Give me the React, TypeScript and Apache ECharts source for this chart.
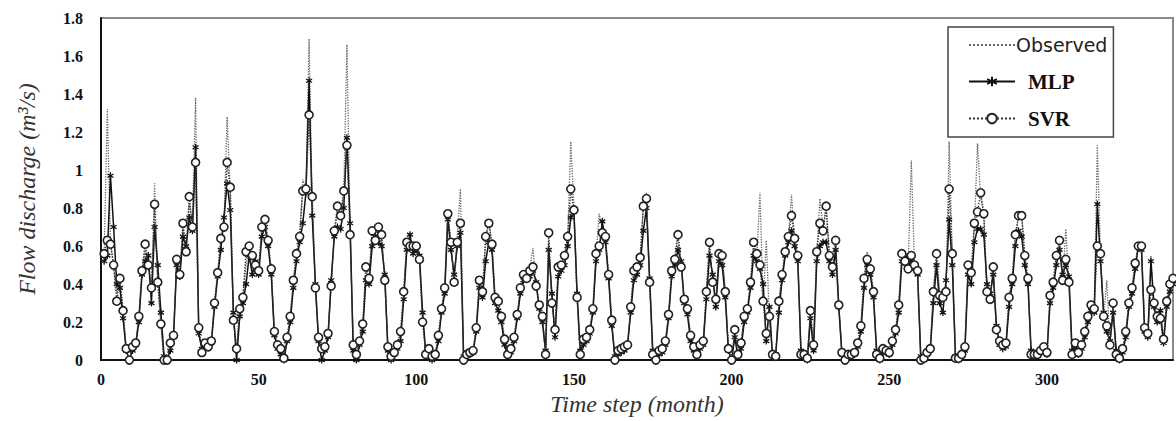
import React, { useEffect, useRef } from "react";
import * as echarts from "echarts";

// Monthly values (month 1 .. 340)
const OBSERVED = [
  0.55,1.32,0.62,0.50,0.35,0.42,0.25,0.05,0.00,0.06,0.08,0.22,
  0.46,0.58,0.50,0.35,0.93,0.40,0.20,0.00,0.00,0.08,0.12,0.52,
  0.44,0.70,0.58,0.82,0.72,1.38,0.15,0.05,0.08,0.08,0.10,0.30,
  0.45,0.62,0.72,1.28,0.88,0.22,0.03,0.26,0.32,0.50,0.58,0.52,
  0.50,0.48,0.68,0.72,0.62,0.47,0.14,0.07,0.05,0.00,0.11,0.22,
  0.40,0.55,0.64,0.95,0.90,1.69,0.80,0.38,0.11,0.05,0.06,0.13,
  0.40,0.66,0.78,0.74,0.88,1.66,0.68,0.07,0.02,0.09,0.18,0.47,
  0.42,0.66,0.70,0.68,0.64,0.43,0.06,0.01,0.04,0.07,0.14,0.35,
  0.63,0.64,0.58,0.60,0.52,0.22,0.03,0.05,0.02,0.03,0.12,0.26,
  0.37,0.78,0.60,0.42,0.66,0.90,0.00,0.03,0.04,0.05,0.16,0.40,
  0.35,0.62,0.74,0.60,0.32,0.30,0.22,0.10,0.03,0.05,0.11,0.23,
  0.37,0.44,0.44,0.48,0.59,0.40,0.28,0.22,0.03,0.62,0.32,0.15,
  0.47,0.50,0.54,0.64,1.15,0.80,0.32,0.03,0.10,0.11,0.15,0.26,
  0.55,0.77,0.70,0.64,0.44,0.20,0.00,0.04,0.05,0.06,0.07,0.27,
  0.46,0.48,0.53,0.80,0.88,0.42,0.03,0.00,0.04,0.05,0.09,0.23,
  0.46,0.52,0.67,0.50,0.31,0.26,0.12,0.06,0.02,0.07,0.09,0.35,
  0.60,0.42,0.31,0.55,0.58,0.35,0.05,0.00,0.15,0.03,0.08,0.22,
  0.26,0.40,0.60,0.55,0.88,0.30,0.63,0.22,0.02,0.02,0.30,0.44,
  0.56,0.64,0.87,0.62,0.54,0.03,0.02,0.00,0.25,0.07,0.56,0.85,
  0.70,0.80,0.54,0.48,0.62,0.28,0.03,0.00,0.02,0.03,0.04,0.08,
  0.17,0.42,0.57,0.47,0.35,0.03,0.00,0.05,0.05,0.04,0.09,0.15,
  0.28,0.55,0.53,0.49,1.05,0.50,0.46,0.00,0.01,0.03,0.05,0.35,
  0.55,0.33,0.32,0.35,1.15,0.55,0.01,0.00,0.02,0.06,0.49,0.45,
  0.70,1.14,0.86,0.76,0.35,0.31,0.48,0.15,0.09,0.07,0.08,0.32,
  0.42,0.65,0.75,0.77,0.54,0.42,0.03,0.02,0.02,0.04,0.06,0.03,
  0.33,0.40,0.54,0.62,0.41,0.69,0.40,0.03,0.08,0.03,0.07,0.14,
  0.22,0.28,0.26,1.13,0.55,0.22,0.42,0.07,0.29,0.02,0.00,0.05,
  0.14,0.29,0.37,0.50,0.59,0.59,0.16,0.13,0.55,0.29,0.22,0.21,
  0.10,0.30,0.39,0.42,
];

const MLP = [
  0.52,0.55,0.97,0.70,0.40,0.38,0.22,0.05,0.00,0.05,0.08,0.20,
  0.45,0.52,0.55,0.30,0.70,0.50,0.25,0.02,0.00,0.05,0.12,0.50,
  0.44,0.65,0.60,0.75,0.68,1.12,0.14,0.06,0.08,0.10,0.09,0.28,
  0.44,0.58,0.75,0.93,0.79,0.25,0.00,0.23,0.30,0.40,0.55,0.45,
  0.52,0.45,0.65,0.70,0.60,0.45,0.13,0.06,0.03,0.00,0.10,0.20,
  0.38,0.52,0.62,0.72,0.88,1.47,0.76,0.40,0.10,0.00,0.05,0.12,
  0.42,0.65,0.70,0.69,0.80,1.17,0.72,0.05,0.00,0.08,0.15,0.42,
  0.40,0.60,0.65,0.62,0.60,0.45,0.05,0.00,0.03,0.06,0.10,0.32,
  0.58,0.66,0.56,0.58,0.55,0.25,0.04,0.03,0.00,0.02,0.10,0.25,
  0.35,0.74,0.58,0.45,0.60,0.67,0.02,0.03,0.03,0.04,0.15,0.38,
  0.33,0.52,0.62,0.58,0.30,0.26,0.20,0.08,0.02,0.04,0.10,0.22,
  0.35,0.42,0.45,0.44,0.47,0.41,0.27,0.20,0.05,0.58,0.35,0.12,
  0.44,0.47,0.50,0.60,0.75,0.78,0.35,0.05,0.08,0.10,0.14,0.25,
  0.52,0.58,0.73,0.62,0.43,0.18,0.02,0.03,0.04,0.05,0.08,0.25,
  0.42,0.45,0.50,0.68,0.80,0.43,0.05,0.00,0.03,0.04,0.08,0.22,
  0.44,0.50,0.58,0.52,0.30,0.24,0.10,0.05,0.02,0.06,0.08,0.32,
  0.55,0.45,0.28,0.52,0.50,0.33,0.05,0.00,0.12,0.02,0.06,0.20,
  0.25,0.38,0.55,0.52,0.48,0.40,0.10,0.28,0.02,0.03,0.25,0.42,
  0.55,0.62,0.68,0.60,0.52,0.05,0.02,0.00,0.22,0.05,0.52,0.60,
  0.62,0.62,0.52,0.45,0.58,0.28,0.03,0.00,0.02,0.02,0.03,0.07,
  0.15,0.38,0.50,0.45,0.33,0.05,0.00,0.04,0.04,0.03,0.08,0.14,
  0.25,0.52,0.55,0.50,0.52,0.48,0.45,0.02,0.00,0.03,0.05,0.30,
  0.50,0.30,0.25,0.42,0.74,0.50,0.02,0.00,0.02,0.05,0.45,0.40,
  0.62,0.69,0.69,0.66,0.40,0.35,0.45,0.18,0.08,0.06,0.07,0.28,
  0.40,0.60,0.68,0.65,0.50,0.40,0.05,0.02,0.02,0.04,0.05,0.03,
  0.30,0.38,0.50,0.58,0.45,0.50,0.44,0.05,0.07,0.03,0.06,0.12,
  0.20,0.26,0.25,0.82,0.52,0.25,0.15,0.10,0.25,0.05,0.00,0.04,
  0.12,0.28,0.35,0.48,0.60,0.58,0.15,0.12,0.52,0.28,0.20,0.26,
  0.09,0.28,0.36,0.40,
];

const SVR = [
  0.56,0.63,0.61,0.50,0.31,0.43,0.26,0.06,0.00,0.07,0.09,0.23,
  0.47,0.61,0.50,0.38,0.82,0.41,0.19,0.00,0.00,0.09,0.13,0.53,
  0.45,0.72,0.57,0.86,0.70,1.04,0.17,0.04,0.09,0.07,0.10,0.30,
  0.46,0.64,0.70,1.04,0.91,0.21,0.06,0.27,0.33,0.57,0.60,0.55,
  0.50,0.47,0.70,0.74,0.63,0.48,0.15,0.08,0.06,0.01,0.12,0.23,
  0.42,0.56,0.65,0.89,0.90,1.29,0.86,0.38,0.12,0.06,0.07,0.14,
  0.39,0.68,0.81,0.76,0.89,1.13,0.66,0.08,0.03,0.10,0.19,0.49,
  0.43,0.68,0.63,0.70,0.66,0.42,0.07,0.02,0.04,0.08,0.15,0.36,
  0.62,0.60,0.60,0.60,0.53,0.20,0.03,0.06,0.02,0.03,0.13,0.27,
  0.38,0.77,0.62,0.41,0.62,0.72,0.00,0.03,0.04,0.05,0.17,0.42,
  0.36,0.65,0.72,0.61,0.33,0.31,0.23,0.11,0.03,0.06,0.12,0.24,
  0.38,0.45,0.43,0.47,0.49,0.39,0.29,0.23,0.03,0.67,0.30,0.16,
  0.49,0.50,0.55,0.65,0.90,0.79,0.33,0.03,0.11,0.12,0.16,0.27,
  0.56,0.60,0.67,0.65,0.45,0.21,0.00,0.05,0.06,0.07,0.08,0.28,
  0.47,0.49,0.54,0.81,0.85,0.41,0.03,0.00,0.05,0.06,0.10,0.24,
  0.47,0.53,0.66,0.49,0.32,0.27,0.13,0.07,0.03,0.08,0.10,0.36,
  0.62,0.41,0.32,0.56,0.55,0.36,0.06,0.00,0.16,0.03,0.09,0.23,
  0.27,0.41,0.62,0.56,0.50,0.31,0.14,0.23,0.03,0.02,0.31,0.45,
  0.57,0.65,0.76,0.64,0.55,0.03,0.03,0.01,0.26,0.08,0.57,0.72,
  0.68,0.81,0.55,0.49,0.63,0.29,0.04,0.00,0.03,0.03,0.04,0.09,
  0.18,0.43,0.53,0.48,0.36,0.03,0.01,0.06,0.05,0.04,0.10,0.16,
  0.29,0.56,0.52,0.48,0.55,0.50,0.47,0.00,0.01,0.04,0.06,0.36,
  0.56,0.34,0.33,0.36,0.90,0.56,0.01,0.01,0.03,0.07,0.50,0.46,
  0.72,0.78,0.88,0.77,0.36,0.32,0.49,0.16,0.10,0.08,0.09,0.33,
  0.43,0.66,0.76,0.76,0.55,0.43,0.03,0.03,0.03,0.05,0.07,0.04,
  0.34,0.41,0.55,0.63,0.42,0.53,0.41,0.03,0.09,0.04,0.08,0.15,
  0.23,0.29,0.27,0.60,0.56,0.23,0.18,0.08,0.30,0.03,0.01,0.06,
  0.15,0.30,0.38,0.51,0.60,0.60,0.17,0.14,0.37,0.30,0.23,0.22,
  0.11,0.31,0.40,0.43,
];

const SERIES_NAMES = ["Observed", "MLP", "SVR"];
const X_MIN = 0;
const X_MAX = 340;
const X_INTERVAL = 50;
const Y_MIN = 0;
const Y_MAX = 1.8;
const Y_INTERVAL = 0.2;

const ASTERISK = "path://M5,0L5,10M0.7,2.5L9.3,7.5M0.7,7.5L9.3,2.5";

function toPairs(values: number[]) {
  return values.map((v, i) => [i + 1, v]);
}

export default function App() {
  const ref = useRef<HTMLDivElement>(null);

  useEffect(() => {
    if (!ref.current) return;
    const chart = echarts.init(ref.current, undefined, { renderer: "svg" });
    const serif = "'Liberation Serif', 'Times New Roman', serif";
    chart.setOption({
      animation: false,
      backgroundColor: "#ffffff",
      grid: {
        left: 101,
        right: 3,
        top: 18,
        bottom: 56,
        show: true,
        borderColor: "#8a8a8a",
        borderWidth: 2,
        backgroundColor: "transparent",
      },
      legend: {
        orient: "vertical",
        left: 948,
        top: 27,
        padding: [8, 6, 8, 20],
        itemGap: 16,
        itemWidth: 46,
        itemHeight: 12,
        borderColor: "#444",
        borderWidth: 1.5,
        backgroundColor: "#fff",
        data: [
          {
            name: "Observed",
            itemStyle: { color: "transparent", borderColor: "transparent", borderWidth: 0 },
            textStyle: { fontFamily: "'DejaVu Sans', sans-serif", fontSize: 19, color: "#222", fontWeight: "normal", padding: [0, 0, 0, -4] },
          },
          { name: "MLP", textStyle: { fontFamily: serif, fontSize: 21, color: "#111", fontWeight: "bold", padding: [0, 0, 0, 8] } },
          { name: "SVR", textStyle: { fontFamily: serif, fontSize: 21, color: "#111", fontWeight: "bold", padding: [0, 0, 0, 8] } },
        ],
        textStyle: { lineHeight: 20 },
      },
      xAxis: {
        type: "value",
        min: X_MIN,
        max: X_MAX,
        interval: X_INTERVAL,
        name: "Time step (month)",
        nameLocation: "middle",
        nameGap: 30,
        nameTextStyle: { fontFamily: serif, fontStyle: "italic", fontSize: 24, color: "#333" },
        axisLine: { show: true, lineStyle: { color: "#111", width: 2 } },
        axisTick: { show: false },
        splitLine: { show: false },
        axisLabel: {
          showMaxLabel: false,
          margin: 11,
          fontFamily: serif,
          fontWeight: "bold",
          fontSize: 16,
          color: "#111",
        },
      },
      yAxis: {
        type: "value",
        min: Y_MIN,
        max: Y_MAX,
        interval: Y_INTERVAL,
        name: "Flow discharge (m³/s)",
        nameLocation: "middle",
        nameGap: 62,
        nameTextStyle: { fontFamily: serif, fontStyle: "italic", fontSize: 24, color: "#333" },
        axisLine: { show: true, lineStyle: { color: "#111", width: 2 } },
        axisTick: { show: false },
        splitLine: { show: false },
        axisLabel: {
          margin: 18,
          fontFamily: serif,
          fontWeight: "bold",
          fontSize: 16,
          color: "#111",
          formatter: (v: number) => String(Math.round(v * 10) / 10),
        },
      },
      series: [
        {
          name: SERIES_NAMES[0],
          type: "line",
          data: toPairs(OBSERVED),
          symbol: "none",
          lineStyle: { color: "#666", width: 1.3, type: "dotted" },
          itemStyle: { color: "#666" },
          z: 1,
        },
        {
          name: SERIES_NAMES[1],
          type: "line",
          data: toPairs(MLP),
          symbol: ASTERISK,
          symbolSize: 7,
          symbolKeepAspect: true,
          showAllSymbol: true,
          lineStyle: { color: "#111", width: 1.5, type: "solid" },
          itemStyle: { color: "none", borderColor: "#111", borderWidth: 1.3 },
          z: 2,
        },
        {
          name: SERIES_NAMES[2],
          type: "line",
          data: toPairs(SVR),
          symbol: "circle",
          symbolSize: 8,
          showAllSymbol: true,
          lineStyle: { color: "#333", width: 1.4, type: "dotted" },
          itemStyle: { color: "#fff", borderColor: "#222", borderWidth: 1.6 },
          z: 3,
        },
      ],
    });
    return () => chart.dispose();
  }, []);

  return (
    <div
      ref={ref}
      style={{ position: "fixed", left: 0, top: 0, width: 1176, height: 421, background: "#fff" }}
    />
  );
}
